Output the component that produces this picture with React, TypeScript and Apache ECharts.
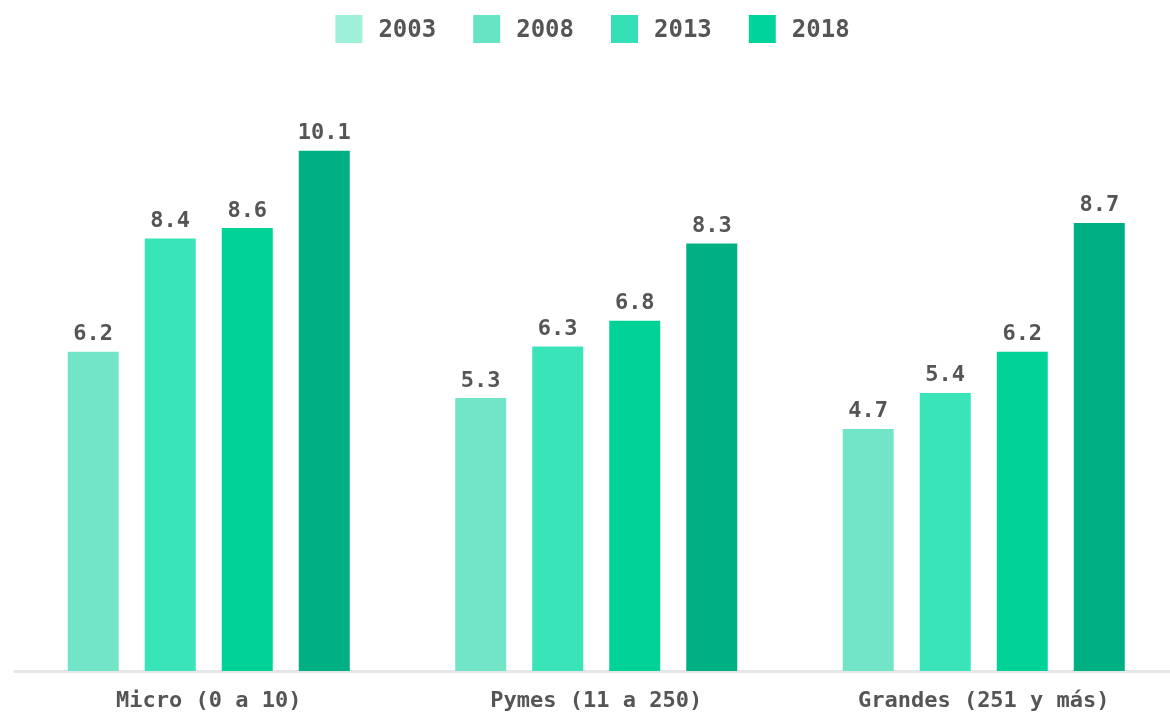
import React, { useEffect, useRef } from "react";
import * as echarts from "echarts";

const categories = ["Micro (0 a 10)", "Pymes (11 a 250)", "Grandes (251 y más)"];
const years = ["2003", "2008", "2013", "2018"];
const values2003 = [6.2, 5.3, 4.7];
const values2008 = [8.4, 6.3, 5.4];
const values2013 = [8.6, 6.8, 6.2];
const values2018 = [10.1, 8.3, 8.7];
const barColors = ["#72e5c8", "#38e4b8", "#00d298", "#00b083"];
const legendColors = ["#9ef0d8", "#66e4c4", "#36e0b6", "#00d49a"];

const FONT = "'DejaVu Sans Mono', 'Liberation Mono', monospace";

export default function App() {
  const ref = useRef<HTMLDivElement>(null);
  useEffect(() => {
    if (!ref.current) return;
    const chart = echarts.init(ref.current, undefined, { renderer: "svg" });
    const seriesValues = [values2003, values2008, values2013, values2018];
    chart.setOption({
      animation: false,
      legend: {
        top: 10,
        left: "center",
        itemWidth: 27,
        itemHeight: 28,
        itemGap: 37,
        icon: "rect",
        textStyle: { fontFamily: FONT, fontSize: 24, fontWeight: "bold", color: "#555", padding: [0, 0, 0, 11] },
        data: years.map((y, i) => ({ name: y, itemStyle: { color: legendColors[i] } })),
      },
      grid: { left: 15, width: 1162.5, top: 53, height: 618 },
      xAxis: {
        type: "category",
        data: categories,
        axisLine: { lineStyle: { color: "#e6e6e6", width: 3 } },
        axisTick: { show: false },
        axisLabel: { fontFamily: FONT, fontSize: 22, fontWeight: "bold", color: "#555", margin: 17 },
      },
      yAxis: { type: "value", min: 0, max: 12, show: false, splitLine: { show: false } },
      series: years.map((y, i) => ({
        name: y,
        type: "bar",
        data: seriesValues[i],
        barWidth: 51,
        barGap: "51%",
        itemStyle: { color: barColors[i] },
        label: {
          show: true,
          position: "top",
          distance: 8,
          fontFamily: FONT,
          fontSize: 22,
          fontWeight: "bold",
          color: "#555",
          formatter: (p: any) => p.value.toFixed(1),
        },
      })),
    });
    return () => chart.dispose();
  }, []);
  return <div ref={ref} style={{ position: "fixed", left: 0, top: 0, width: 1185, height: 727 }} />;
}
